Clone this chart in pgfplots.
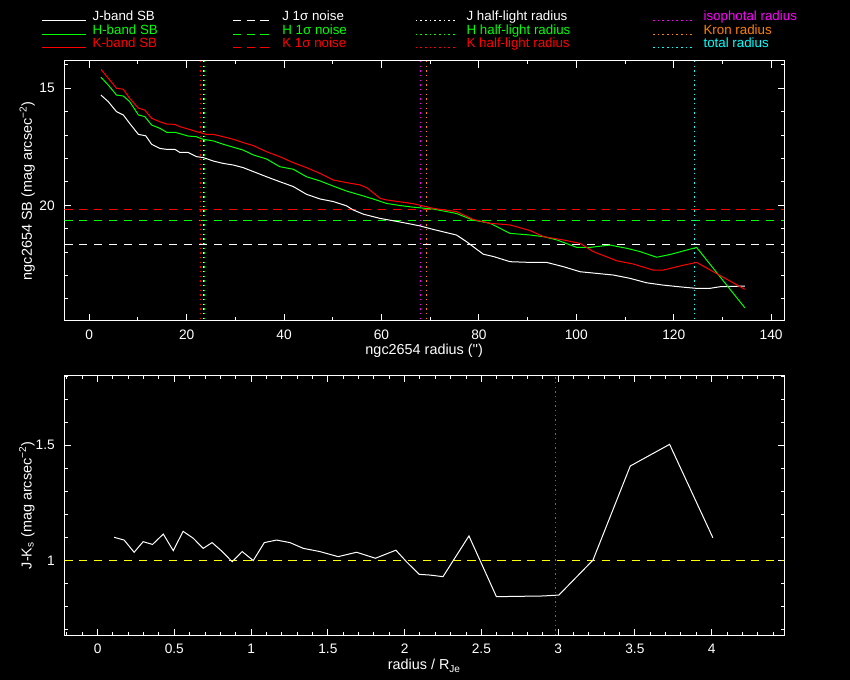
\documentclass[border=0pt]{standalone}
\usepackage{pgfplots}
\pgfplotsset{compat=1.18}
\usepackage{fontspec}
\setmainfont{Liberation Sans}
\definecolor{myorange}{RGB}{255,128,0}
\definecolor{mygreen}{RGB}{0,255,0}
\definecolor{myred}{RGB}{255,0,0}
\definecolor{mymagenta}{RGB}{255,0,255}
\definecolor{mycyan}{RGB}{0,255,255}
\definecolor{myyellow}{RGB}{255,255,0}
\begin{document}
\fontsize{10}{12}\selectfont
\begin{tikzpicture}
\fill[black] (0,0) rectangle (637.5pt,510pt);
\useasboundingbox (0,0) rectangle (637.5pt,510pt);
\pgfplotsset{
  pgstyle/.style={
    scale only axis, width=540pt,
    axis line style={white, line width=0.75pt},
    every tick/.style={white, line width=0.75pt},
    tick align=inside,
    major tick length=5pt, minor tick length=2.5pt,
    ticklabel style={white, font=\fontsize{10.3}{12}\selectfont},
    /pgf/number format/assume math mode=true,
    xticklabel style={yshift=-3.2pt},
    yticklabel style={xshift=-3.6pt},
    noiseline/.style={line width=0.75pt, dash pattern=on 6.2pt off 5pt},
    dotline/.style={line width=0.75pt, dash pattern=on 1.1pt off 2.4pt},
    curve/.style={line width=0.75pt, no markers},
  }
}
% ---------------- top panel ----------------
\begin{axis}[pgstyle,
  at={(48.2pt,269.5pt)}, anchor=south west, height=194.8pt,
  xmin=-5.13, xmax=142.7, ymin=13.83, ymax=24.93, y dir=reverse,
  xtick={0,20,40,60,80,100,120,140}, minor xtick={10,30,50,70,90,110,130},
  ytick={15,20}, minor ytick={14,16,17,18,19,21,22,23,24},
  xlabel={ngc2654 radius (\textquotesingle\textquotesingle)},
  ylabel={ngc2654 SB (mag arcsec\textsuperscript{−2})},
  every axis x label/.style={at={(axis description cs:0.5,-0.132)}, anchor=base, text=white, font=\fontsize{10.8}{12}\selectfont},
  every axis y label/.style={at={(axis description cs:-0.045,0.5)}, anchor=base, rotate=90, text=white, font=\fontsize{10.8}{12}\selectfont},
]
% noise levels
\addplot[noiseline, white] coordinates {(-5.13,21.67) (142.7,21.67)};
\addplot[noiseline, mygreen] coordinates {(-5.13,20.64) (142.7,20.64)};
\addplot[noiseline, myred] coordinates {(-5.13,20.17) (142.7,20.17)};
% radii
\addplot[dotline, myred] coordinates {(22.8,13.83) (22.8,24.93)};
\addplot[dotline, white] coordinates {(23.4,13.83) (23.4,24.93)};
\addplot[dotline, mygreen] coordinates {(23.7,13.83) (23.7,24.93)};
\addplot[dotline, mymagenta] coordinates {(68.0,13.83) (68.0,24.93)};
\addplot[dotline, myorange] coordinates {(69.2,13.83) (69.2,24.93)};
\addplot[dotline, mycyan] coordinates {(124.2,13.83) (124.2,24.93)};
% J
\addplot[curve, white] coordinates {
(2.4,15.29) (3.9,15.57) (5.6,16.00) (7.0,16.14) (8.3,16.50) (10.1,16.97)
(11.6,17.03) (12.8,17.39) (14.5,17.57) (15.9,17.61) (17.6,17.61) (18.6,17.74)
(20.3,17.74) (22.0,17.92) (23.4,17.96) (25.5,18.11) (27.5,18.21) (29.6,18.28)
(31.6,18.39) (33.7,18.56) (36.4,18.78) (39.1,18.99) (41.9,19.20) (44.6,19.53)
(47.4,19.73) (50.1,19.84) (52.8,20.02) (54.2,20.20) (56.3,20.38) (59.7,20.56)
(62.4,20.66) (65.2,20.77) (67.9,20.88) (70.6,21.03) (73.4,21.17) (75.4,21.27)
(77.5,21.56) (80.9,22.09) (83.0,22.19) (86.4,22.41) (90.5,22.44) (93.9,22.44)
(97.3,22.62) (100.8,22.84) (104.2,22.91) (107.6,22.98) (111.0,23.12) (114.4,23.31)
(117.8,23.41) (122.0,23.50) (124.7,23.55) (127.4,23.55) (129.5,23.48) (134.6,23.45)
};
% H
\addplot[curve, mygreen] coordinates {
(2.4,14.53) (3.9,14.86) (5.6,15.29) (7.0,15.33) (8.3,15.57) (10.1,16.14)
(11.4,16.21) (12.8,16.57) (14.5,16.71) (15.9,16.88) (17.6,16.88) (20.3,17.04)
(22.0,17.07) (23.4,17.18) (25.5,17.25) (27.5,17.39) (29.6,17.52) (31.6,17.64)
(33.7,17.85) (36.4,18.02) (39.1,18.35) (41.9,18.46) (44.6,18.78) (47.4,18.96)
(50.1,19.18) (52.8,19.39) (55.6,19.56) (58.3,19.73) (61.0,19.92) (63.8,20.01)
(66.5,20.08) (70.6,20.16) (75.4,20.35) (78.8,20.63) (82.3,20.77) (86.4,21.20)
(90.5,21.27) (93.3,21.34) (96.0,21.48) (100.1,21.80) (102.8,21.80) (106.9,21.70)
(110.4,21.84) (113.1,21.98) (116.5,22.22) (119.3,22.10) (122.7,21.91) (124.7,21.80)
(134.6,24.38)
};
% K
\addplot[curve, myred] coordinates {
(2.4,14.19) (3.9,14.57) (5.6,15.00) (7.0,15.04) (8.3,15.43) (10.1,15.85)
(11.4,15.93) (12.8,16.28) (14.5,16.43) (15.9,16.53) (17.6,16.54) (18.6,16.64)
(20.3,16.74) (22.0,16.85) (24.1,16.97) (25.5,16.97) (27.5,17.07) (29.6,17.18)
(31.6,17.32) (33.7,17.45) (36.4,17.71) (39.1,17.92) (41.9,18.18) (44.6,18.39)
(47.4,18.64) (50.1,18.92) (52.8,19.03) (55.6,19.13) (57.0,19.25) (59.7,19.70)
(61.0,19.77) (63.8,19.85) (66.5,19.93) (70.6,20.13) (75.4,20.27) (78.8,20.60)
(82.3,20.77) (86.4,20.84) (90.5,21.08) (93.3,21.34) (97.3,21.48) (100.8,21.63)
(103.5,21.98) (108.3,22.37) (111.7,22.51) (115.8,22.77) (117.8,22.77) (122.0,22.56)
(124.7,22.44) (134.6,23.59)
};
\end{axis}
% ---------------- bottom panel ----------------
\begin{axis}[pgstyle,
  at={(48.2pt,33.5pt)}, anchor=south west, height=195pt,
  xmin=-0.217, xmax=4.473, ymin=0.674, ymax=1.804,
  xtick={0,0.5,1,1.5,2,2.5,3,3.5,4},
  minor xtick={-0.2,-0.1,0.1,0.2,0.3,0.4,0.6,0.7,0.8,0.9,1.1,1.2,1.3,1.4,1.6,1.7,1.8,1.9,2.1,2.2,2.3,2.4,2.6,2.7,2.8,2.9,3.1,3.2,3.3,3.4,3.6,3.7,3.8,3.9,4.1,4.2,4.3,4.4},
  ytick={1,1.5}, minor ytick={0.7,0.8,0.9,1.1,1.2,1.3,1.4,1.6,1.7,1.8},
  xlabel={radius / R\textsubscript{Je}},
  ylabel={J-K\textsubscript{s} (mag arcsec\textsuperscript{−2})},
  every axis x label/.style={at={(axis description cs:0.5,-0.133)}, anchor=base, text=white, font=\fontsize{10.8}{12}\selectfont},
  every axis y label/.style={at={(axis description cs:-0.0455,0.5)}, anchor=base, rotate=90, text=white, font=\fontsize{10.8}{12}\selectfont},
]
\addplot[noiseline, myyellow] coordinates {(-0.217,1) (4.473,1)};
\addplot[dotline, mymagenta] coordinates {(2.98,0.674) (2.98,1.804)};
\addplot[curve, white] coordinates {
(0.108,1.100) (0.173,1.088) (0.238,1.035) (0.297,1.081) (0.358,1.069) (0.428,1.114)
(0.493,1.042) (0.557,1.126) (0.623,1.096) (0.688,1.052) (0.746,1.077) (0.807,1.041)
(0.877,0.994) (0.942,1.038) (1.014,0.999) (1.086,1.077) (1.166,1.088) (1.253,1.077)
(1.340,1.052) (1.448,1.038) (1.567,1.016) (1.687,1.035) (1.810,1.009) (1.943,1.044)
(2.012,0.994) (2.095,0.939) (2.164,0.936) (2.250,0.929) (2.419,1.106) (2.598,0.842)
(2.901,0.845) (3.005,0.849) (3.227,1.001) (3.470,1.410) (3.726,1.504) (4.008,1.098)
};
\end{axis}
% ---------------- legend ----------------
\begin{scope}[line width=0.75pt]
\draw[white] (31.7pt,494.5pt) -- (64.2pt,494.5pt);
\draw[mygreen] (31.7pt,484.3pt) -- (64.2pt,484.3pt);
\draw[myred] (31.7pt,474.1pt) -- (64.2pt,474.1pt);
\node[anchor=base west, inner sep=0, white] at (69.1pt,494.5pt) {J-band SB};
\node[anchor=base west, inner sep=0, mygreen] at (69.1pt,484.3pt) {H-band SB};
\node[anchor=base west, inner sep=0, myred] at (69.1pt,474.1pt) {K-band SB};
\draw[white, dash pattern=on 6.2pt off 4pt] (174.8pt,494.5pt) -- (202pt,494.5pt);
\draw[mygreen, dash pattern=on 6.2pt off 4pt] (174.8pt,484.3pt) -- (202pt,484.3pt);
\draw[myred, dash pattern=on 6.2pt off 4pt] (174.8pt,474.1pt) -- (202pt,474.1pt);
\node[anchor=base west, inner sep=0, white] at (211.4pt,494.5pt) {J 1σ noise};
\node[anchor=base west, inner sep=0, mygreen] at (211.4pt,484.3pt) {H 1σ noise};
\node[anchor=base west, inner sep=0, myred] at (211.4pt,474.1pt) {K 1σ noise};
\draw[white, dash pattern=on 1.1pt off 2.4pt] (311.8pt,494.5pt) -- (341.5pt,494.5pt);
\draw[mygreen, dash pattern=on 1.1pt off 2.4pt] (311.8pt,484.3pt) -- (341.5pt,484.3pt);
\draw[myred, dash pattern=on 1.1pt off 2.4pt] (311.8pt,474.1pt) -- (341.5pt,474.1pt);
\node[anchor=base west, inner sep=0, white] at (349.6pt,494.5pt) {J half-light radius};
\node[anchor=base west, inner sep=0, mygreen] at (349.6pt,484.3pt) {H half-light radius};
\node[anchor=base west, inner sep=0, myred] at (349.6pt,474.1pt) {K half-light radius};
\draw[mymagenta, dash pattern=on 1.1pt off 2.4pt] (489.8pt,494.5pt) -- (519.5pt,494.5pt);
\draw[myorange, dash pattern=on 1.1pt off 2.4pt] (489.8pt,484.3pt) -- (519.5pt,484.3pt);
\draw[mycyan, dash pattern=on 1.1pt off 2.4pt] (489.8pt,474.1pt) -- (519.5pt,474.1pt);
\node[anchor=base west, inner sep=0, mymagenta] at (527.3pt,494.5pt) {isophotal radius};
\node[anchor=base west, inner sep=0, myorange] at (527.3pt,484.3pt) {Kron radius};
\node[anchor=base west, inner sep=0, mycyan] at (527.3pt,474.1pt) {total radius};
\end{scope}
\end{tikzpicture}
\end{document}
